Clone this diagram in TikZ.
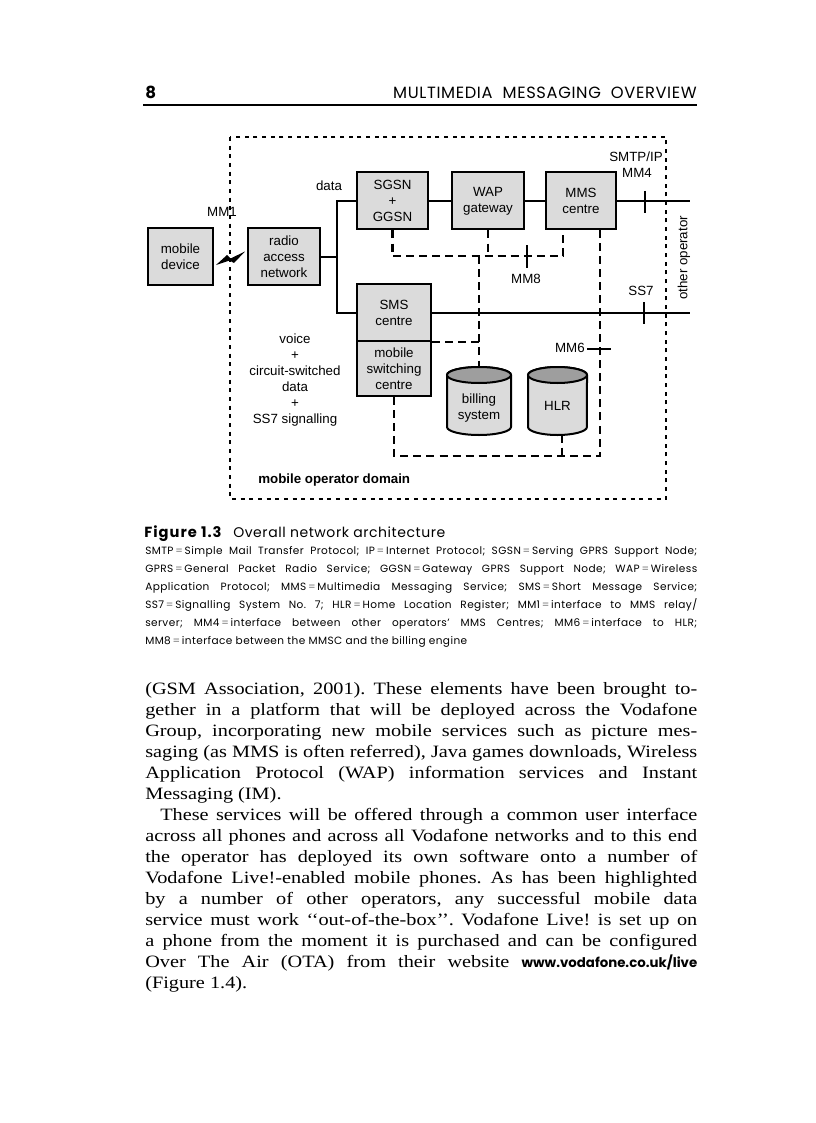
\documentclass[tikz,border=0pt]{standalone}
\usepackage{fontspec}
\setmainfont{Liberation Serif}[FakeStretch=1.17]
\newfontfamily\pop{Poppins}
\newfontfamily\popc{Poppins}[LetterSpace=4]
\newfontfamily\popb{Poppins}[LetterSpace=7]
\newfontfamily\dsf{Liberation Sans}
\definecolor{boxgray}{gray}{0.86}
\definecolor{topgray}{gray}{0.62}
\definecolor{eqgray}{gray}{0.45}
\newcommand\eqq{\kern1.3pt{\color{eqgray}=}\kern1.3pt}
\tikzset{
  box/.style={draw, line width=1.5pt, fill=boxgray, align=center, inner sep=0pt,
    font=\fontsize{10}{12}\selectfont\dsf},
  sz/.style 2 args={minimum width=#1*0.75pt, minimum height=#2*0.75pt},
  conn/.style={line width=1.5pt},
  dsh/.style={line width=2pt, dash pattern=on 6pt off 3.8pt},
  dom/.style={line width=1pt, dash pattern=on 3pt off 3.5pt},
  tickl/.style={line width=1.5pt},
  lbl/.style={inner sep=0pt, font=\fontsize{10}{12}\selectfont\dsf},
  bodyl/.style={anchor=base west, inner sep=0pt, font=\fontsize{13}{15}\selectfont\frenchspacing},
  capl/.style={anchor=base west, inner sep=0pt, font=\fontsize{7.9}{9}\selectfont\popc\frenchspacing},
}
\newcommand\bl[3]{\node[bodyl] (#1) at (145,#2) {\makebox[414pt][s]{#3}};}
\newcommand\cl[3]{\node[capl] (#1) at (145,#2) {\makebox[414pt][s]{#3}};}
\begin{document}
\begin{tikzpicture}[x=0.75pt,y=-0.75pt]
\useasboundingbox (0,0) rectangle (816,1123);
\fill[white] (0,0) rectangle (816,1123);

% header
\node[anchor=base west, inner sep=0pt, font=\fontsize{12.5}{14}\selectfont\pop\bfseries] (pg) at (145,99) {8};
\node[anchor=base east, inner sep=0pt, font=\fontsize{12.2}{14}\selectfont\popc] (hd) at (697,99) {MULTIMEDIA\ \ MESSAGING\ \ OVERVIEW};
\coordinate (rl) at (143,105);
\coordinate (rr) at (697,105);
\draw[line width=1.6pt] (rl) -- (rr);

% domain
\coordinate (d1) at (230,137);
\coordinate (d2) at (666,499);
\draw[dom] (d1) rectangle (d2);

% boxes
\node[box, sz={65}{57}] (dev) at (180.5,256.5) {mobile\\device};
\node[box, sz={72}{57}] (ran) at (284,256.5) {radio\\access\\network};
\node[box, sz={71}{57}] (sgsn) at (392.5,201) {SGSN\\+\\GGSN};
\node[box, sz={72}{57}] (wap) at (488,201) {WAP\\gateway};
\node[box, sz={70}{57}] (mms) at (581,201) {MMS\\centre};
\node[box, sz={74}{57}] (sms) at (394,312.5) {SMS\\centre};
\node[box, sz={74}{55}] (msc) at (394,368.5) {mobile\\switching\\centre};

% cylinders
\filldraw[fill=boxgray, line width=1.5pt] (447,375) -- (447,427) arc[start angle=180,end angle=360,x radius=24pt,y radius=6pt] -- (511,375) arc[start angle=0,end angle=180,x radius=24pt,y radius=6pt] -- cycle;
\filldraw[fill=topgray, line width=1.5pt] (479,375) ellipse [x radius=24pt, y radius=6pt];
\node[lbl, align=center] (bill) at (479,408) {billing\\system};
\coordinate (billtop) at (479,367);
\filldraw[fill=boxgray, line width=1.5pt] (528,375) -- (528,427) arc[start angle=180,end angle=360,x radius=22.1pt,y radius=6pt] -- (587,375) arc[start angle=0,end angle=180,x radius=22.1pt,y radius=6pt] -- cycle;
\filldraw[fill=topgray, line width=1.5pt] (557.5,375) ellipse [x radius=22.1pt, y radius=6pt];
\node[lbl] (hlr) at (557.5,406) {HLR};
\coordinate (hlrbot) at (562,434.5);

% lightning
\fill (216,265) -- (227,255) -- (230.5,258.5) -- (245,251.5) -- (234,263) -- (229.5,260.5) -- cycle;

% solid connectors
\coordinate (jr) at (337,256.5);
\draw[conn] (ran.east) -- (jr);
\draw[conn] (sgsn.west) -| (jr) |- (sms.west);
\draw[conn] (sgsn) -- (wap);
\draw[conn] (wap) -- (mms);
\coordinate (mm4e) at (690,201);
\draw[conn] (mms) -- (mm4e);
\coordinate (ss7e) at (690,312.5);
\draw[conn] (sms) -- (ss7e);
\coordinate (t4a) at (645,191); \coordinate (t4b) at (645,213);
\draw[tickl] (t4a) -- (t4b);
\coordinate (t7a) at (644,302); \coordinate (t7b) at (644,324);
\draw[tickl] (t7a) -- (t7b);

% dashed connectors
\coordinate (h8) at (563,256);
\draw[dsh] (sgsn.south) |- (h8) -- (h8 |- mms.south);
\draw[dsh] (wap.south) -- (wap.south |- h8);
\coordinate (bj) at (479,256);
\draw[dsh] (bj) -- (billtop);
\draw[dsh] (sms.south east) -- (bj |- sms.south east);
\coordinate (lp) at (600,456);
\draw[dsh] (msc.south) |- (lp) -- (lp |- mms.south);
\draw[dsh] (hlrbot) -- (hlrbot |- lp);
\coordinate (t8a) at (527,245); \coordinate (t8b) at (527,268);
\draw[tickl] (t8a) -- (t8b);
\coordinate (t6a) at (587,349); \coordinate (t6b) at (611,349);
\draw[tickl] (t6a) -- (t6b);

% labels
\node[lbl] (ldata) at (329,186) {data};
\node[lbl] (lmm1) at (222,212) {MM1};
\node[lbl] (lsmtp) at (636,157) {SMTP/IP};
\node[lbl] (lmm4) at (637,173) {MM4};
\node[lbl] (lmm8) at (526,279) {MM8};
\node[lbl] (lss7) at (641,291) {SS7};
\node[lbl, anchor=east] (lmm6) at (585,348) {MM6};
\node[lbl, rotate=90] (lother) at (684,258) {other operator};
\node[lbl, align=center, font=\fontsize{10}{12}\selectfont\dsf] (lvoice) at (295,380) {voice\\+\\circuit-switched\\data\\+\\SS7 signalling};
\node[lbl, anchor=west, font=\fontsize{10}{12}\selectfont\dsf\bfseries] (ldom) at (258,480) {mobile operator domain};

% caption
\node[anchor=base west, inner sep=0pt, font=\fontsize{11}{12}\selectfont\popb\bfseries] (cfig) at (144,537) {Figure 1.3};
\node[anchor=base west, inner sep=0pt, font=\fontsize{10.5}{12}\selectfont\popc] (ctit) at (233,537) {Overall network architecture};
\cl{c1}{554}{SMTP\eqq Simple Mail Transfer Protocol; IP\eqq Internet Protocol; SGSN\eqq Serving GPRS Support Node;}
\cl{c2}{572}{GPRS\eqq General Packet Radio Service; GGSN\eqq Gateway GPRS Support Node; WAP\eqq Wireless}
\cl{c3}{590}{Application Protocol; MMS\eqq Multimedia Messaging Service; SMS\eqq Short Message Service;}
\cl{c4}{608}{SS7\eqq Signalling System No. 7; HLR\eqq Home Location Register; MM1\eqq interface to MMS relay/}
\cl{c5}{626}{server; MM4\eqq interface between other operators’ MMS Centres; MM6\eqq interface to HLR;}
\node[capl] (c6) at (145,644) {MM8\eqq interface between the MMSC and the billing engine};

% body text
\bl{b1}{694}{(GSM Association, 2001). These elements have been brought to-}
\bl{b2}{715}{gether in a platform that will be deployed across the Vodafone}
\bl{b3}{736}{Group, incorporating new mobile services such as picture mes-}
\bl{b4}{757}{saging (as MMS is often referred), Java games downloads, Wireless}
\bl{b5}{778}{Application Protocol (WAP) information services and Instant}
\node[bodyl] (b6) at (145,799) {Messaging (IM).};
\node[bodyl] (b7) at (160,820) {\makebox[402.75pt][s]{These services will be offered through a common user interface}};
\bl{b8}{841}{across all phones and across all Vodafone networks and to this end}
\bl{b9}{862}{the operator has deployed its own software onto a number of}
\bl{b10}{883}{Vodafone Live!-enabled mobile phones. As has been highlighted}
\bl{b11}{904}{by a number of other operators, any successful mobile data}
\bl{b12}{925}{service must work ‘‘out-of-the-box’’. Vodafone Live! is set up on}
\bl{b13}{946}{a phone from the moment it is purchased and can be configured}
\bl{b14}{967}{Over The Air (OTA) from their website {\pop\bfseries\fontsize{10}{12}\selectfont www.vodafone.co.uk/live}}
\node[bodyl] (b15) at (145,988) {(Figure 1.4).};
\end{tikzpicture}
\end{document}
